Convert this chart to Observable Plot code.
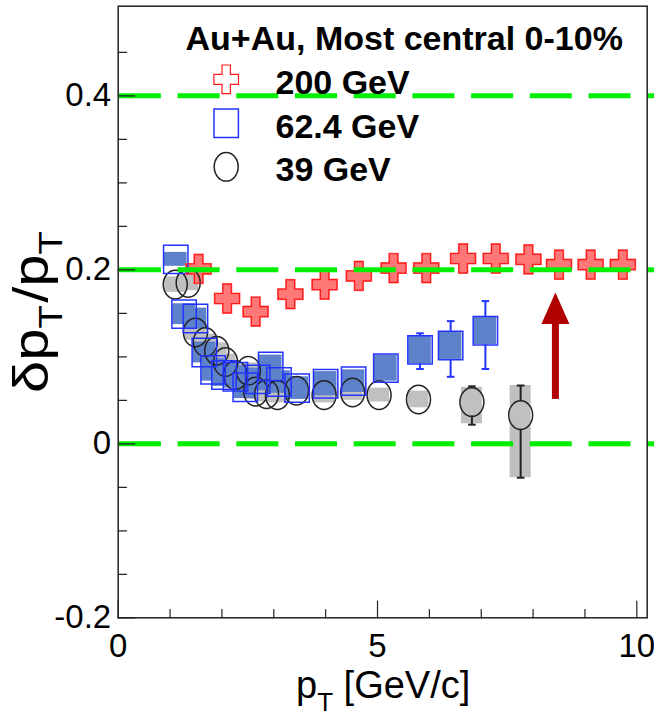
<!DOCTYPE html>
<html><head><meta charset="utf-8">
<script src="https://cdn.jsdelivr.net/npm/d3@7"></script>
<script src="https://cdn.jsdelivr.net/npm/@observablehq/plot@0.6"></script>
<style>html,body{margin:0;padding:0;background:#fff}svg{display:block}</style>
</head><body><div id="chart"></div>
<script>
// ---------- data ----------
const pt200  = [1.55, 2.10, 2.65, 3.32, 3.98, 4.64, 5.31, 5.94, 6.65, 7.28, 7.91, 8.50, 9.11, 9.73];
const val200 = [0.201, 0.167, 0.152, 0.172, 0.183, 0.193, 0.202, 0.202, 0.213, 0.213, 0.212, 0.206, 0.206, 0.206];

const pt624       = [1.11, 1.27, 1.49, 1.66, 1.83, 2.04, 2.26, 2.45, 2.69, 2.94, 3.10, 3.45, 4.00, 4.54, 5.16, 5.82, 6.41, 7.08];
const val624      = [0.212, 0.149, 0.144, 0.105, 0.085, 0.079, 0.077, 0.065, 0.074, 0.089, 0.071, 0.064, 0.069, 0.072, 0.087, 0.108, 0.113, 0.130];
const statUp624   = [0, 0, 0, 0, 0, 0, 0, 0, 0, 0, 0, 0, 0, 0, 0, 0.019, 0.028, 0.034];
const statDown624 = [0, 0, 0, 0, 0, 0, 0, 0, 0, 0, 0, 0, 0, 0, 0, 0.022, 0.036, 0.044];
const sys624      = [0.008, 0.012, 0.012, 0.012, 0.013, 0.013, 0.013, 0.013, 0.013, 0.013, 0.013, 0.013, 0.014, 0.013, 0.015, 0.016, 0.016, 0.016];

const pt39       = [1.10, 1.35, 1.49, 1.68, 1.90, 2.07, 2.26, 2.51, 2.65, 2.86, 3.07, 3.44, 3.97, 4.52, 5.03, 5.79, 6.82, 7.76];
const val39      = [0.183, 0.185, 0.128, 0.117, 0.107, 0.094, 0.079, 0.084, 0.060, 0.057, 0.056, 0.061, 0.056, 0.059, 0.056, 0.051, 0.048, 0.033];
const statUp39   = [0, 0, 0, 0, 0, 0, 0, 0, 0, 0, 0, 0, 0, 0, 0, 0, 0.018, 0.034];
const statDown39 = [0, 0, 0, 0, 0, 0, 0, 0, 0, 0, 0, 0, 0, 0, 0, 0, 0.026, 0.072];
const sysUp39    = [0.009, 0.009, 0.009, 0.009, 0.009, 0.009, 0.009, 0.009, 0.009, 0.009, 0.009, 0.009, 0.009, 0.009, 0.008, 0.0096, 0.017, 0.034];
const sysDown39  = [0.009, 0.009, 0.009, 0.009, 0.009, 0.009, 0.009, 0.009, 0.009, 0.009, 0.009, 0.009, 0.009, 0.009, 0.008, 0.0096, 0.025, 0.072];

const refLevels = [0, 0.2, 0.4];
const arrowX = [8.43], arrowTail = [0.051], arrowTip = [0.174];

const xDomain = [0, 10.2];
const yDomain = [-0.2, 0.503];
const xTickValues = [0, 5, 10];
const xTickLabels = ["0", "5", "10"];
const xMinor = [1, 2, 3, 4, 6, 7, 8, 9];
const yTickValues = [-0.2, 0, 0.2, 0.4];
const yTickLabels = ["-0.2", "0", "0.2", "0.4"];
const yMinor = [-0.15, -0.1, -0.05, 0.05, 0.1, 0.15, 0.25, 0.3, 0.35, 0.45];

const legendTitle = "Au+Au, Most central 0-10%";
const legendLabels = ["200 GeV", "62.4 GeV", "39 GeV"];
const xTitle = ["p", "T", " [GeV/c]"];
const yTitle = ["δp", "T", "/p", "T"];

// ---------- tables ----------
const s200 = pt200.map((x, i) => ({x, y: val200[i]}));
const s624 = pt624.map((x, i) => ({x, y: val624[i], up: statUp624[i], down: statDown624[i], sys: sys624[i]}));
const s39  = pt39.map((x, i) => ({x, y: val39[i], up: statUp39[i], down: statDown39[i], sysUp: sysUp39[i], sysDown: sysDown39[i]}));
const e624 = s624.filter(d => d.up > 0);
const e39  = s39.filter(d => d.up > 0);
const arrow = arrowX.map((x, i) => ({x, tail: arrowTail[i], tip: arrowTip[i]}));

// ---------- styles ----------
const FONT = "'Liberation Sans', Arial, Helvetica, sans-serif";
const RED = "#ff1a1a", RED_FILL = "#ff7878";
const BLUE = "#2233ff", BLUE_FILL = "#5d82ca";
const BLACK = "#222", GRAY = "#c0c0c0";
const GREEN = "#00ee00", ARROW = "#b00000", AX = "#222";

function ellipse(rx, ry) {
  const k = 0.5523;
  return {draw(c) {
    c.moveTo(rx, 0);
    c.bezierCurveTo(rx, ry * k, rx * k, ry, 0, ry);
    c.bezierCurveTo(-rx * k, ry, -rx, ry * k, -rx, 0);
    c.bezierCurveTo(-rx, -ry * k, -rx * k, -ry, 0, -ry);
    c.bezierCurveTo(rx * k, -ry, rx, -ry * k, rx, 0);
    c.closePath();
  }};
}
function box(hw, hh) {
  return {draw(c) { c.moveTo(-hw, -hh); c.lineTo(hw, -hh); c.lineTo(hw, hh); c.lineTo(-hw, hh); c.closePath(); }};
}
function cross(hw, hh, aw, ah) {
  return {draw(c) {
    c.moveTo(-aw, -hh); c.lineTo(aw, -hh); c.lineTo(aw, -ah); c.lineTo(hw, -ah); c.lineTo(hw, ah);
    c.lineTo(aw, ah); c.lineTo(aw, hh); c.lineTo(-aw, hh); c.lineTo(-aw, ah); c.lineTo(-hw, ah);
    c.lineTo(-hw, -ah); c.lineTo(-aw, -ah); c.closePath();
  }};
}
const capShape = {draw(c) { c.moveTo(-3.8, 0); c.lineTo(3.8, 0); }};
const headShape = {draw(c) { c.moveTo(0, 0); c.lineTo(14, 31.5); c.lineTo(-14, 31.5); c.closePath(); }};
const tickShape = {draw(c, l) { c.moveTo(0, 0); c.lineTo(0, -l); }};

const circ = ellipse(12, 14.3);
const sq = box(12.2, 14.2);
const crossOut = cross(12.3, 14.3, 4.2, 5.0);
const crossFill = cross(13.4, 15.4, 5.2, 6.0);

const legendDx = 108, legendRowDy = [73.1, 117.1, 160.6], legendTextDx = 157.3, legendBaseDy = [87.5, 131.5, 174.5];
const legendSymbols = [
  {symbol: crossOut, stroke: RED, strokeWidth: 1.2},
  {symbol: sq, stroke: BLUE, strokeWidth: 1.5},
  {symbol: circ, stroke: BLACK, strokeWidth: 1.5}
];

const legendMarks = legendLabels.flatMap((lab, i) => [
  Plot.dot([lab], {frameAnchor: "top-left", dx: legendDx, dy: legendRowDy[i], fill: "none", ...legendSymbols[i]}),
  Plot.text([lab], {frameAnchor: "top-left", dx: legendTextDx, dy: legendBaseDy[i], text: d => d, textAnchor: "start", lineAnchor: "bottom", fontSize: 34, fontWeight: "bold", fill: "black"})
]);

const plot = Plot.plot({
  width: 654, height: 721,
  marginLeft: 117.7, marginRight: 7.3, marginTop: 5.7, marginBottom: 103.7,
  x: {domain: xDomain, axis: null},
  y: {domain: yDomain, axis: null},
  style: {fontFamily: FONT, background: "white", overflow: "visible", color: "black"},
  marks: [
    // systematic boxes
    Plot.rect(s39, {x1: "x", x2: "x", y1: d => d.y - d.sysDown, y2: d => d.y + d.sysUp, insetLeft: -10.5, insetRight: -10.5, fill: GRAY}),
    Plot.rect(s624, {x1: "x", x2: "x", y1: d => d.y - d.sys, y2: d => d.y + d.sys, insetLeft: -11.3, insetRight: -11.3, fill: BLUE_FILL}),
    Plot.dot(s200, {x: "x", y: "y", symbol: crossFill, fill: RED_FILL, stroke: "none"}),
    // statistical error bars (drawn outside the marker)
    Plot.ruleX(e39, {x: "x", y1: d => d.y + d.up, y2: "y", insetBottom: 14.3, stroke: BLACK, strokeWidth: 2}),
    Plot.ruleX(e39, {x: "x", y1: "y", y2: d => d.y - d.down, insetTop: 14.3, stroke: BLACK, strokeWidth: 2}),
    Plot.dot(e39, {x: "x", y: d => d.y + d.up, symbol: capShape, stroke: BLACK, strokeWidth: 2, fill: "none"}),
    Plot.dot(e39, {x: "x", y: d => d.y - d.down, symbol: capShape, stroke: BLACK, strokeWidth: 2, fill: "none"}),
    Plot.ruleX(e624, {x: "x", y1: d => d.y + d.up, y2: "y", insetBottom: 14.2, stroke: BLUE, strokeWidth: 2}),
    Plot.ruleX(e624, {x: "x", y1: "y", y2: d => d.y - d.down, insetTop: 14.2, stroke: BLUE, strokeWidth: 2}),
    Plot.dot(e624, {x: "x", y: d => d.y + d.up, symbol: capShape, stroke: BLUE, strokeWidth: 2, fill: "none"}),
    Plot.dot(e624, {x: "x", y: d => d.y - d.down, symbol: capShape, stroke: BLUE, strokeWidth: 2, fill: "none"}),
    // open markers
    Plot.dot(s39, {x: "x", y: "y", symbol: circ, stroke: BLACK, strokeWidth: 1.5, fill: "none"}),
    Plot.dot(s624, {x: "x", y: "y", symbol: sq, stroke: BLUE, strokeWidth: 1.5, fill: "none"}),
    Plot.dot(s200, {x: "x", y: "y", symbol: crossOut, stroke: RED, strokeWidth: 1.2, fill: "none"}),
    // reference lines
    Plot.ruleY(refLevels, {stroke: GREEN, strokeWidth: 5, strokeDasharray: "42,16.7", strokeDashoffset: 57.5, insetRight: -7.3}),
    // arrow
    Plot.ruleX(arrow, {x: "x", y1: "tip", y2: "tail", insetTop: 28, stroke: ARROW, strokeWidth: 7}),
    Plot.dot(arrow, {x: "x", y: "tip", symbol: headShape, fill: ARROW, stroke: "none"}),
    // frame & ticks
    Plot.frame({stroke: AX, strokeWidth: 1.5}),
    Plot.vector(xMinor, {x: d => d, y: () => yDomain[0], length: 8.3, rotate: 0, anchor: "start", shape: tickShape, stroke: AX, strokeWidth: 1.2}),
    Plot.vector(xTickValues, {x: d => d, y: () => yDomain[0], length: 16.7, rotate: 0, anchor: "start", shape: tickShape, stroke: AX, strokeWidth: 1.2}),
    Plot.vector(yMinor, {x: () => xDomain[0], y: d => d, length: 8.3, rotate: 90, anchor: "start", shape: tickShape, stroke: AX, strokeWidth: 1.2}),
    Plot.vector(yTickValues, {x: () => xDomain[0], y: d => d, length: 16.7, rotate: 90, anchor: "start", shape: tickShape, stroke: AX, strokeWidth: 1.2}),
    Plot.axisX(xTickValues, {anchor: "bottom", tickSize: 0, tickPadding: 16, fontSize: 33, tickFormat: d => xTickLabels[xTickValues.indexOf(d)], label: null}),
    Plot.axisY(yTickValues, {anchor: "left", tickSize: 0, tickPadding: 7, fontSize: 33, tickFormat: d => yTickLabels[yTickValues.indexOf(d)], label: null}),
    // legend
    Plot.text([legendTitle], {frameAnchor: "top-left", dx: 67.3, dy: 43.5, text: d => d, textAnchor: "start", lineAnchor: "bottom", fontSize: 34, fontWeight: "bold", fill: "black"}),
    ...legendMarks
  ]
});

// axis titles with subscripts
const svg = d3.select(plot);
const xt = svg.append("text").attr("x", 296).attr("y", 698).attr("text-anchor", "start")
  .attr("font-size", 38).attr("font-family", FONT).attr("fill", "black");
xt.append("tspan").text(xTitle[0]);
xt.append("tspan").attr("font-size", 26).attr("dy", 13).text(xTitle[1]);
xt.append("tspan").attr("dy", -13).text(xTitle[2]);

const yt = svg.append("text").attr("transform", "translate(48,393) rotate(-90) scale(1.16,1)").attr("text-anchor", "start")
  .attr("font-size", 50).attr("font-family", FONT).attr("fill", "black");
yt.append("tspan").text(yTitle[0]);
yt.append("tspan").attr("font-size", 33).attr("dy", 14).text(yTitle[1]);
yt.append("tspan").attr("dy", -14).attr("dx", 2).text(yTitle[2]);
yt.append("tspan").attr("font-size", 33).attr("dy", 14).text(yTitle[3]);

document.getElementById("chart").appendChild(plot);
</script>
</body></html>
